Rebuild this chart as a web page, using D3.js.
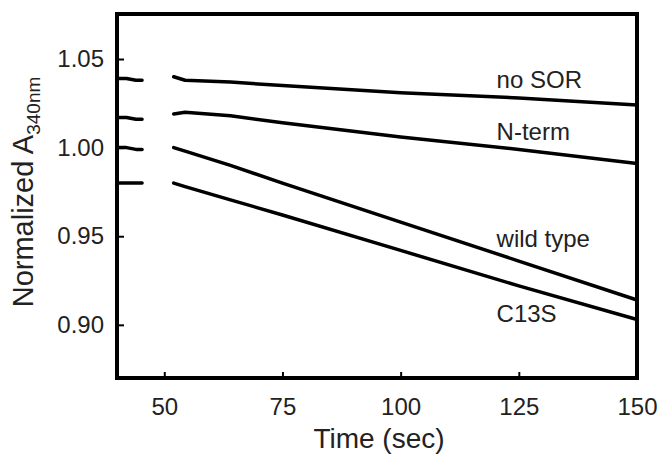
<!DOCTYPE html>
<html>
<head>
<meta charset="utf-8">
<script src="https://cdn.jsdelivr.net/npm/d3@7"></script>
<style>
    body { margin: 0; background: #fff; }
    text { font-family: "Liberation Sans", Arial, sans-serif; fill: #222; }
</style>
</head>
<body>
<div id="chart_div"></div>
<script>
// values
const seriesNames = ["no SOR", "N-term", "wild type", "C13S"];

// before mixing (short pieces at the left)
const preTime = [40, 42, 44, 45.3];
const noSorPre = [1.039, 1.039, 1.038, 1.038];
const nTermPre = [1.017, 1.017, 1.016, 1.016];
const wildTypePre = [1.000, 1.000, 0.999, 0.999];
const c13sPre = [0.980, 0.980, 0.980, 0.980];

// after mixing
const postTime = [52, 54.4, 64, 75, 100, 125, 150];
const noSorPost = [1.040, 1.038, 1.037, 1.035, 1.031, 1.028, 1.024];
const nTermPost = [1.019, 1.020, 1.018, 1.014, 1.006, 0.999, 0.991];
const wildTypePost = [1.000, 0.998, 0.990, 0.980, 0.958, 0.936, 0.914];
const c13sPost = [0.980, 0.978, 0.9705, 0.962, 0.942, 0.922, 0.903];

// where the series names sit (data units)
const labelTime = [120.3, 120.3, 120.3, 120.3];
const labelValue = [1.0336, 1.0042, 0.9438, 0.9017];

const xTicks = [50, 75, 100, 125, 150];
const yTicks = [0.90, 0.95, 1.00, 1.05];

let margin = {top: 14, right: 23, bottom: 78, left: 117};
let width = 660 - margin.left - margin.right;
let height = 456 - margin.top - margin.bottom;

let svg = d3.select("#chart_div")
    .append("svg")
    .attr("width", 660)
    .attr("height", 456)
    .append("g")
    .attr("transform", "translate(" + margin.left + "," + margin.top + ")");

const x = d3.scaleLinear()
    .domain([40, 150])
    .range([0, width]);

const y = d3.scaleLinear()
    .domain([0.870, 1.0754])
    .range([height, 0]);

const preSets = [noSorPre, nTermPre, wildTypePre, c13sPre];
const postSets = [noSorPost, nTermPost, wildTypePost, c13sPost];

let segments = [];
seriesNames.forEach(function (name, i) {
    segments.push(preTime.map((t, j) => ({t: t, v: preSets[i][j]})));
    segments.push(postTime.map((t, j) => ({t: t, v: postSets[i][j]})));
});

const line = d3.line()
    .x(d => x(d.t))
    .y(d => y(d.v));

svg.selectAll("myLines")
    .data(segments)
    .join("path")
    .attr("d", line)
    .style("fill", "none")
    .style("stroke", "#000")
    .style("stroke-width", 3.5)
    .style("stroke-linejoin", "round")
    .style("stroke-linecap", "round");

// axes, ticks point inward
let xAxis = svg.append("g")
    .attr("transform", `translate(0, ${height})`)
    .call(d3.axisBottom(x).tickValues(xTicks).tickSize(-6).tickPadding(20).tickFormat(d3.format("d")));

let yAxis = svg.append("g")
    .call(d3.axisLeft(y).tickValues(yTicks).tickSize(-7).tickPadding(13).tickFormat(d3.format(".2f")));

[xAxis, yAxis].forEach(function (a) {
    a.select(".domain").remove();
    a.selectAll(".tick line").attr("stroke", "#000").attr("stroke-width", 2);
    a.selectAll(".tick text")
        .style("font-size", "24px")
        .style("font-family", "'Liberation Sans', Arial, sans-serif")
        .attr("fill", "#222");
});

// frame
svg.append("rect")
    .attr("x", 0)
    .attr("y", 0)
    .attr("width", width)
    .attr("height", height)
    .style("fill", "none")
    .style("stroke", "#000")
    .style("stroke-width", 4);

// series labels
svg.selectAll("my_labels")
    .data(seriesNames)
    .enter()
    .append("text")
    .attr("x", (d, i) => x(labelTime[i]))
    .attr("y", (d, i) => y(labelValue[i]))
    .style("font-size", "24px")
    .text(d => d);

// axis titles
svg.append("text")
    .attr("text-anchor", "middle")
    .attr("x", width / 2 + 2)
    .attr("y", height + 70)
    .style("font-size", "28px")
    .text("Time (sec)");

let yTitle = svg.append("text")
    .attr("text-anchor", "middle")
    .attr("transform", "rotate(-90)")
    .attr("y", -margin.left + 33)
    .attr("x", -height / 2 + 4)
    .style("font-size", "29px");

yTitle.append("tspan").text("Normalized A");
yTitle.append("tspan")
    .attr("dy", 7)
    .style("font-size", "19px")
    .text("340nm");
</script>
</body>
</html>
